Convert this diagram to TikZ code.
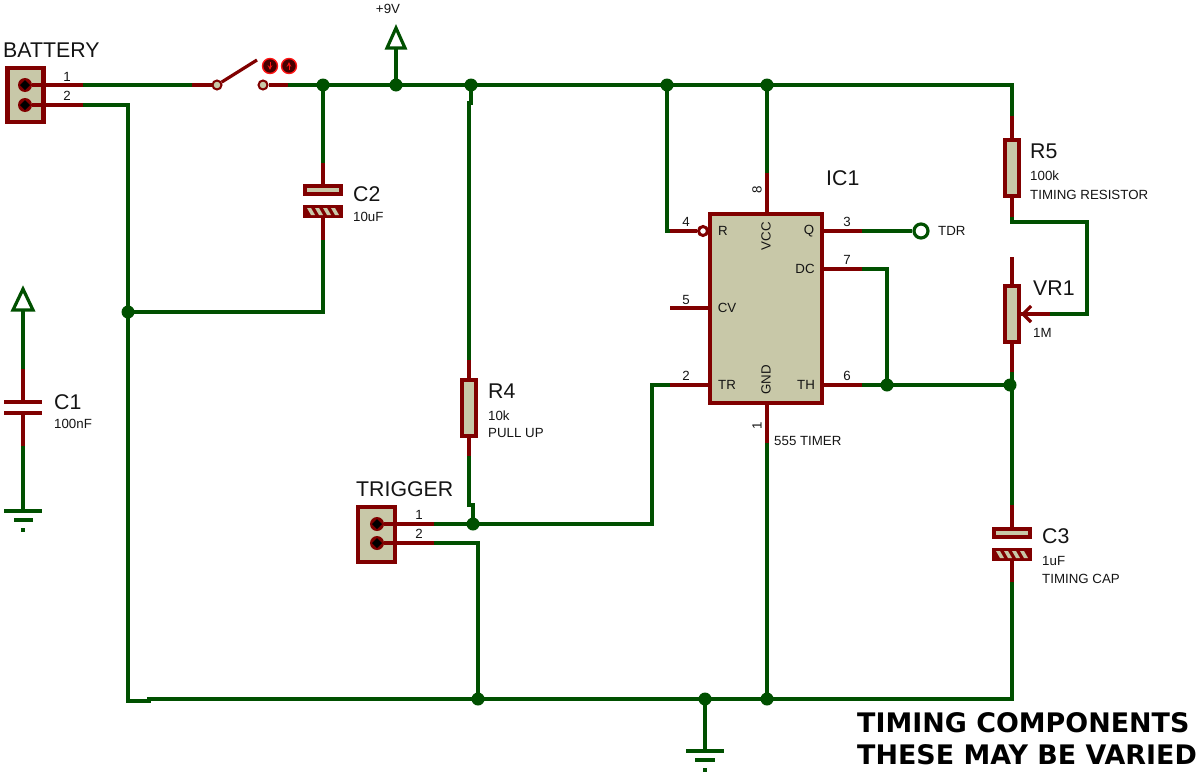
\documentclass[tikz,border=0pt]{standalone}
\usepackage{fontspec}
\setmainfont{Liberation Sans}
\newfontfamily\notefont{DejaVu Sans}
\definecolor{wiregreen}{RGB}{0, 80, 0}
\definecolor{pinred}{RGB}{128, 0, 0}
\definecolor{bodytan}{RGB}{200, 200, 168}
\definecolor{textgrey}{RGB}{20, 20, 20}
\definecolor{ledred}{RGB}{255, 20, 20}
\definecolor{leddark}{RGB}{70, 0, 0}
\tikzset{
  wire/.style={draw=wiregreen, line width=3.2pt, line join=miter},
  pin/.style={draw=pinred, line width=3.2pt},
  body/.style={draw=pinred, line width=4.4pt, fill=bodytan},
  hatchbody/.style={draw=pinred, line width=4.4pt, fill=pinred},
  dot/.style={circle, fill=wiregreen, inner sep=0pt, outer sep=-2pt, minimum size=13pt},
  contact/.style={circle, draw=pinred, line width=2pt, fill=bodytan, inner sep=0pt, minimum size=9pt},
  hole/.style={circle, fill=pinred, inner sep=0pt, minimum size=14pt},
  big/.style={anchor=west, inner sep=0pt, text=textgrey, font=\fontsize{21.3}{24}\selectfont},
  small/.style={anchor=west, inner sep=0pt, text=textgrey, font=\fontsize{13.3}{16}\selectfont},
  num/.style={inner sep=0pt, text=textgrey, font=\fontsize{13.3}{16}\selectfont},
  note/.style={anchor=west, inner sep=0pt, text=black, font=\notefont\bfseries\fontsize{26.9}{32}\selectfont},
  led/.style={circle, draw=ledred, line width=1.4pt, fill=leddark, inner sep=0pt, minimum size=15pt},
}
\begin{document}
\begin{tikzpicture}[x=1pt, y=-1pt]
\useasboundingbox (0,0) rectangle (1198,771);

% junctions
\node[dot] (jA) at (323,85) {};
\node[dot] (jB) at (396,85) {};
\node[dot] (jC) at (471,85) {};
\node[dot] (jD) at (667,85) {};
\node[dot] (jE) at (767,85) {};
\node[dot] (jF) at (128,312) {};
\node[dot] (jG) at (473,524) {};
\node[dot] (jH) at (887,385) {};
\node[dot] (jI) at (1010,385) {};
\node[dot] (jJ) at (478,699) {};
\node[dot] (jK) at (705,699) {};
\node[dot] (jL) at (767,699) {};

% end points of pins
\coordinate (bat1) at (83,85);
\coordinate (bat2) at (83,105);
\coordinate (swL) at (192,85);
\coordinate (swR) at (288,85);
\coordinate (c2T) at (323,163);
\coordinate (c2B) at (323,240);
\coordinate (r4T) at (469,360);
\coordinate (r4B) at (469,456);
\coordinate (trg1) at (434,524);
\coordinate (trg2) at (434,543);
\coordinate (p1) at (767,443);
\coordinate (p2) at (670,385);
\coordinate (p3) at (862,231);
\coordinate (p4) at (670,231);
\coordinate (p6) at (862,385);
\coordinate (p7) at (862,269);
\coordinate (p8) at (767,173);
\coordinate (r5T) at (1012,116);
\coordinate (r5B) at (1012,217);
\coordinate (vrW) at (1050,314);
\coordinate (vrB) at (1012,372);
\coordinate (c3T) at (1012,505);
\coordinate (c3B) at (1012,582);
\coordinate (c1T) at (23,369);
\coordinate (c1B) at (23,446);

% wires
\draw[wire] (bat1) -- (swL);
\draw[wire] (swR) -- (jA) -- (jB) -- (jC) -- (jD) -- (jE) -- (1012,85) -- (r5T);
\draw[wire] (bat2) -- (128,105) -- (128,701) -- (149,701) -- (149,699) -- (jJ) -- (jK) -- (jL) -- (1012,699) -- (c3B);
\draw[wire] (jA) -- (c2T);
\draw[wire] (c2B) -- (323,312) -- (jF);
\draw[wire] (jC) -- (471,103) -- (469,103) -- (r4T);
\draw[wire] (r4B) -- (469,505) -- (473,505) -- (jG);
\draw[wire] (trg1) -- (jG) -- (652,524) -- (652,385) -- (p2);
\draw[wire] (trg2) -- (478,543) -- (jJ);
\draw[wire] (jD) -- (667,231) -- (p4);
\draw[wire] (jE) -- (p8);
\draw[wire] (p1) -- (jL);
\draw[wire] (p7) -- (887,269) -- (jH);
\draw[wire] (p6) -- (jH) -- (jI);
\draw[wire] (vrB) -- (c3T);
\draw[wire] (r5B) -- (1012,222) -- (1087,222) -- (1087,314) -- (vrW);

% battery connector
\node[body, minimum width=36pt, minimum height=54pt, inner sep=0pt] (batbox) at (25.5,95) {};
\node[hole] (bh1) at (25,85) {};
\node[hole] (bh2) at (25,105) {};
\draw[pin] (bh1) -- (bat1);
\draw[pin] (bh2) -- (bat2);
\node[big] (batlbl) at (3,50) {BATTERY};
\node[num] (batn1) at (67,77) {1};
\node[num] (batn2) at (67,96) {2};

% switch
\node[contact] (swa) at (217,85) {};
\node[contact] (swb) at (263,85) {};
\coordinate (swtip) at (257,60);
\draw[pin] (swL) -- (swa);
\draw[pin] (swb) -- (swR);
\draw[pin] (swa) -- (swtip);
\node[led] (ledA) at (270,66) {};
\node[led] (ledB) at (289,66) {};
\draw[-stealth, draw=ledred, line width=1pt] (ledA.north) ++(0,4) -- ++(0,8);
\draw[-stealth, draw=ledred, line width=1pt] (ledB.south) ++(0,-4) -- ++(0,-8);

% +9V terminal
\coordinate (vccA) at (396,48);
\draw[wire] (jB) -- (vccA);
\draw[wire] (387,48) -- (396,28) -- (405,48) -- cycle;
\node[num] (vlbl) at (388,9) {+9V};

% C2
\node[body, minimum width=36.5pt, minimum height=8pt, inner sep=0pt] (c2a) at (323,190) {};
\node[hatchbody, minimum width=36.5pt, minimum height=8pt, inner sep=0pt] (c2b) at (323,211.5) {};
\foreach \hx in {310,318,326,334} {
  \fill[bodytan] (\hx-3,208) -- (\hx+1,208) -- (\hx+5,215) -- (\hx+1,215) -- cycle;
}
\draw[pin] (c2T) -- (c2a);
\draw[pin] (c2b) -- (c2B);
\node[big] (c2lbl) at (353,194) {C2};
\node[small] (c2val) at (353,217) {10uF};

% C1
\coordinate (c1P) at (23,310);
\coordinate (c1G) at (23,511);
\draw[wire] (c1P) -- (c1T);
\draw[wire] (c1B) -- (c1G);
\draw[wire] (13,310) -- (23,289) -- (33,310) -- cycle;
\coordinate (c1a) at (23,402);
\coordinate (c1b) at (23,413);
\draw[pin] (c1T) -- (c1a);
\draw[pin] (c1b) -- (c1B);
\draw[pin] (4,402) -- (42,402);
\draw[pin] (4,413) -- (42,413);
\draw[wire] (4,511) -- (42,511);
\draw[wire] (14,520) -- (33,520);
\draw[wire] (21,530) -- (25,530);
\node[big] (c1lbl) at (54,402) {C1};
\node[small] (c1val) at (54,424) {100nF};

% R4
\node[body, minimum width=14.5pt, minimum height=56pt, inner sep=0pt] (r4) at (469,408) {};
\draw[pin] (r4T) -- (r4);
\draw[pin] (r4) -- (r4B);
\node[big] (r4lbl) at (488,391) {R4};
\node[small] (r4val) at (488,416) {10k};
\node[small] (r4txt) at (488,433) {PULL UP};

% trigger connector
\node[body, minimum width=37pt, minimum height=55pt, inner sep=0pt] (trgbox) at (376.5,534.5) {};
\node[hole] (th1) at (377,524) {};
\node[hole] (th2) at (377,543) {};
\draw[pin] (th1) -- (trg1);
\draw[pin] (th2) -- (trg2);
\node[big] (trglbl) at (356,489) {TRIGGER};
\node[num] (trgn1) at (419,515) {1};
\node[num] (trgn2) at (419,534) {2};

% connector holes
\foreach \h in {bh1,bh2,th1,th2} {
  \fill[black] (\h) ++(-5,0) -- ++(5,-5) -- ++(5,5) -- ++(-5,5) -- cycle;
}

% IC1
\node[body, minimum width=112.5pt, minimum height=189.5pt, inner sep=0pt] (ic) at (766,308.5) {};
\node[circle, draw=pinred, line width=3pt, fill=white, inner sep=0pt, minimum size=9pt] (invR) at (703,231) {};
\draw[pin] (p4) -- (invR);
\draw[pin] (p8) -- (ic.north -| p8);
\draw[pin] (p1) -- (ic.south -| p1);
\draw[pin] (p3) -- (ic.east |- p3);
\draw[pin] (p7) -- (ic.east |- p7);
\draw[pin] (p6) -- (ic.east |- p6);
\draw[pin] (p2) -- (ic.west |- p2);
\coordinate (p5) at (670,308);
\draw[pin] (p5) -- (ic.west |- p5);
\node[num] (icR) at (723,231) {R};
\node[num] (icCV) at (727,308) {CV};
\node[num] (icTR) at (727,385) {TR};
\node[num] (icQ) at (809,231) {Q};
\node[num] (icDC) at (805,269) {DC};
\node[num] (icTH) at (806,385) {TH};
\node[num, rotate=90] (icVCC) at (766,236) {VCC};
\node[num, rotate=90] (icGND) at (766,380) {GND};
\node[num] (n4) at (686,222) {4};
\node[num] (n5) at (686,300) {5};
\node[num] (n2) at (686,376) {2};
\node[num] (n3) at (847,222) {3};
\node[num] (n7) at (847,260) {7};
\node[num] (n6) at (847,376) {6};
\node[num, rotate=90] (n8) at (757,190) {8};
\node[num, rotate=90] (n1) at (757,426) {1};
\node[big] (iclbl) at (826,178) {IC1};
\node[small] (ictxt) at (774,441) {555 TIMER};

% TDR probe
\node[circle, draw=wiregreen, line width=3.2pt, fill=white, inner sep=0pt, minimum size=14pt] (tdr) at (921,231) {};
\draw[wire] (p3) -- (tdr);
\node[small] (tdrlbl) at (938,231) {TDR};

% R5
\node[body, minimum width=14.5pt, minimum height=56pt, inner sep=0pt] (r5) at (1012,168) {};
\draw[pin] (r5T) -- (r5);
\draw[pin] (r5) -- (r5B);
\node[big] (r5lbl) at (1030,151) {R5};
\node[small] (r5val) at (1030,176) {100k};
\node[small] (r5txt) at (1030,195) {TIMING RESISTOR};

% VR1
\node[body, minimum width=14.5pt, minimum height=56pt, inner sep=0pt] (vr) at (1012,314) {};
\coordinate (vrT) at (1012,257);
\draw[pin] (vrT) -- (vr);
\draw[pin] (vr) -- (vrB);
\draw[pin] (vrW) -- (vr);
\draw[pin] (1031,306) -- (1023,314) -- (1031,322);
\node[big] (vrlbl) at (1033,288) {VR1};
\node[small] (vrval) at (1033,333) {1M};

% C3
\node[body, minimum width=36.5pt, minimum height=8pt, inner sep=0pt] (c3a) at (1012,533) {};
\node[hatchbody, minimum width=36.5pt, minimum height=8pt, inner sep=0pt] (c3b) at (1012,554.5) {};
\foreach \hx in {999,1007,1015,1023} {
  \fill[bodytan] (\hx-3,551) -- (\hx+1,551) -- (\hx+5,558) -- (\hx+1,558) -- cycle;
}
\draw[pin] (c3T) -- (c3a);
\draw[pin] (c3b) -- (c3B);
\node[big] (c3lbl) at (1042,536) {C3};
\node[small] (c3val) at (1042,561) {1uF};
\node[small] (c3txt) at (1042,579) {TIMING CAP};

% ground
\coordinate (gnd) at (705,751);
\draw[wire] (jK) -- (gnd);
\draw[wire] (686,751) -- (724,751);
\draw[wire] (695,760) -- (715,760);
\draw[wire] (703,770) -- (707,770);

% note
\node[note] (note1) at (857,723) {TIMING COMPONENTS};
\node[note] (note2) at (857,755) {THESE MAY BE VARIED};
\end{tikzpicture}
\end{document}
